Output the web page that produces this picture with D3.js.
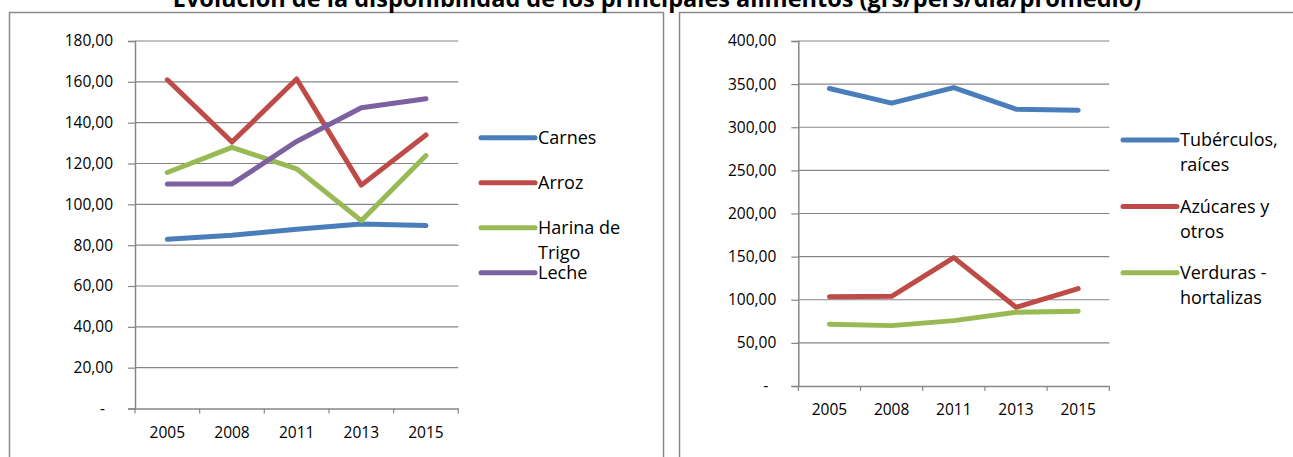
<!DOCTYPE html>
<html>
<head>
<meta charset="utf-8">
<script src="https://cdn.jsdelivr.net/npm/d3@7"></script>
<style>
  body { margin: 0; background: #fff; }
  text { font-family: "Open Sans", sans-serif; fill: #000; }
</style>
</head>
<body>
<script>
  // Data
  const years = ["2005", "2008", "2011", "2013", "2015"];

  const leftNames = [["Carnes"], ["Arroz"], ["Harina de", "Trigo"], ["Leche"]];
  const carnes = [82.9, 84.9, 87.8, 90.4, 89.6];
  const arroz = [161.0, 130.5, 161.4, 109.4, 134.0];
  const harina = [115.6, 127.9, 117.4, 92.0, 123.9];
  const leche = [109.9, 110.0, 130.8, 147.3, 151.7];
  const leftTicks = [0, 20, 40, 60, 80, 100, 120, 140, 160, 180];

  const rightNames = [["Tubérculos,", "raíces"], ["Azúcares y", "otros"], ["Verduras -", "hortalizas"]];
  const tuberculos = [344.9, 328.0, 346.0, 321.0, 319.8];
  const azucares = [103.6, 104.0, 148.8, 91.3, 112.9];
  const verduras = [71.6, 70.0, 75.8, 85.5, 86.6];
  const rightTicks = [0, 50, 100, 150, 200, 250, 300, 350, 400];

  const colors = ["#4a7ebb", "#be4b48", "#98b954", "#7d60a0"];
  const title = "Evolución de la disponibilidad de los principales alimentos (grs/pers/día/promedio)";

  const svg = d3.select("body").append("svg")
    .attr("width", 1293)
    .attr("height", 457);

  // panel frames
  svg.append("rect").attr("x", 9.5).attr("y", 12.5).attr("width", 654).attr("height", 470)
    .attr("fill", "#fff").attr("stroke", "#8a8a8a").attr("stroke-width", 1.5);
  svg.append("rect").attr("x", 679.5).attr("y", 12.5).attr("width", 700).attr("height", 470)
    .attr("fill", "#fff").attr("stroke", "#8a8a8a").attr("stroke-width", 1.5);

  // title sits partly above the top edge, as in the source image
  svg.append("text")
    .attr("x", 657).attr("y", 7)
    .attr("text-anchor", "middle")
    .style("font-weight", "bold")
    .style("font-size", "23.5px")
    .text(title);

  const fmt = d => d === 0 ? "-" : d3.format(".2f")(d).replace(".", ",");

  function drawChart(opt) {
    const g = svg.append("g").attr("transform", `translate(${opt.left},${opt.top})`);
    const x = d3.scaleBand().domain(years).range([0, opt.width]);
    const y = d3.scaleLinear().domain([0, d3.max(opt.ticks)]).range([opt.height, 0]);

    // gridlines
    g.selectAll(".grid").data(opt.ticks.filter(t => t > 0)).enter().append("line")
      .attr("class", "grid")
      .attr("x1", 0).attr("x2", opt.width)
      .attr("y1", d => y(d)).attr("y2", d => y(d))
      .attr("stroke", "#868686").attr("stroke-width", 1.2);

    // y axis
    const yAxis = g.append("g")
      .call(d3.axisLeft(y).tickValues(opt.ticks).tickFormat(fmt).tickSize(7).tickPadding(15));
    yAxis.select(".domain").attr("stroke", "#868686").attr("stroke-width", 1.5);
    yAxis.selectAll(".tick line").attr("stroke", "#868686").attr("stroke-width", 1.2);
    yAxis.selectAll(".tick text").style("font-size", "15.5px")
      .attr("dx", d => d === 0 ? -8 : 0);

    // x axis
    const xAxis = g.append("g").attr("transform", `translate(0,${opt.height})`)
      .call(d3.axisBottom(x).tickSize(0).tickPadding(18));
    xAxis.select(".domain").attr("stroke", "#868686").attr("stroke-width", 1.5);
    xAxis.selectAll(".tick text").style("font-size", "15.5px");
    xAxis.selectAll(".bound").data(d3.range(years.length + 1)).enter().append("line")
      .attr("class", "bound")
      .attr("x1", i => i * x.step()).attr("x2", i => i * x.step())
      .attr("y1", 0).attr("y2", 5)
      .attr("stroke", "#868686").attr("stroke-width", 1.2);

    const line = d3.line()
      .x((d, i) => x(years[i]) + x.bandwidth() / 2)
      .y(d => y(d));

    opt.series.forEach((s, k) => {
      g.append("path")
        .attr("d", line(s))
        .attr("fill", "none")
        .attr("stroke", colors[k])
        .attr("stroke-width", 5)
        .attr("stroke-linecap", "round")
        .attr("stroke-linejoin", "round");
    });

    // legend
    const lg = g.append("g")
      .attr("transform", `translate(${opt.width + opt.legendDx},${opt.legendTop})`);
    const items = lg.selectAll(".item").data(opt.names).enter().append("g")
      .attr("transform", (d, i) => `translate(0,${i * opt.legendStep})`);
    items.append("line")
      .attr("x1", 0).attr("x2", 54)
      .attr("stroke", (d, i) => colors[i])
      .attr("stroke-width", 5)
      .attr("stroke-linecap", "round");
    const txt = items.append("text")
      .attr("x", 57)
      .style("font-size", "18px");
    txt.selectAll("tspan").data(d => d).enter().append("tspan")
      .attr("x", 57)
      .attr("y", (d, i) => i * 25)
      .attr("dy", "0.35em")
      .text(d => d);
  }

  drawChart({
    left: 135, top: 41, width: 323.3, height: 367.5,
    ticks: leftTicks, series: [carnes, arroz, harina, leche], names: leftNames,
    legendDx: 22.7, legendTop: 96.7, legendStep: 45
  });

  drawChart({
    left: 798.3, top: 41, width: 311, height: 345,
    ticks: rightTicks, series: [tuberculos, azucares, verduras], names: rightNames,
    legendDx: 13.7, legendTop: 99, legendStep: 66.4
  });
</script>
</body>
</html>
